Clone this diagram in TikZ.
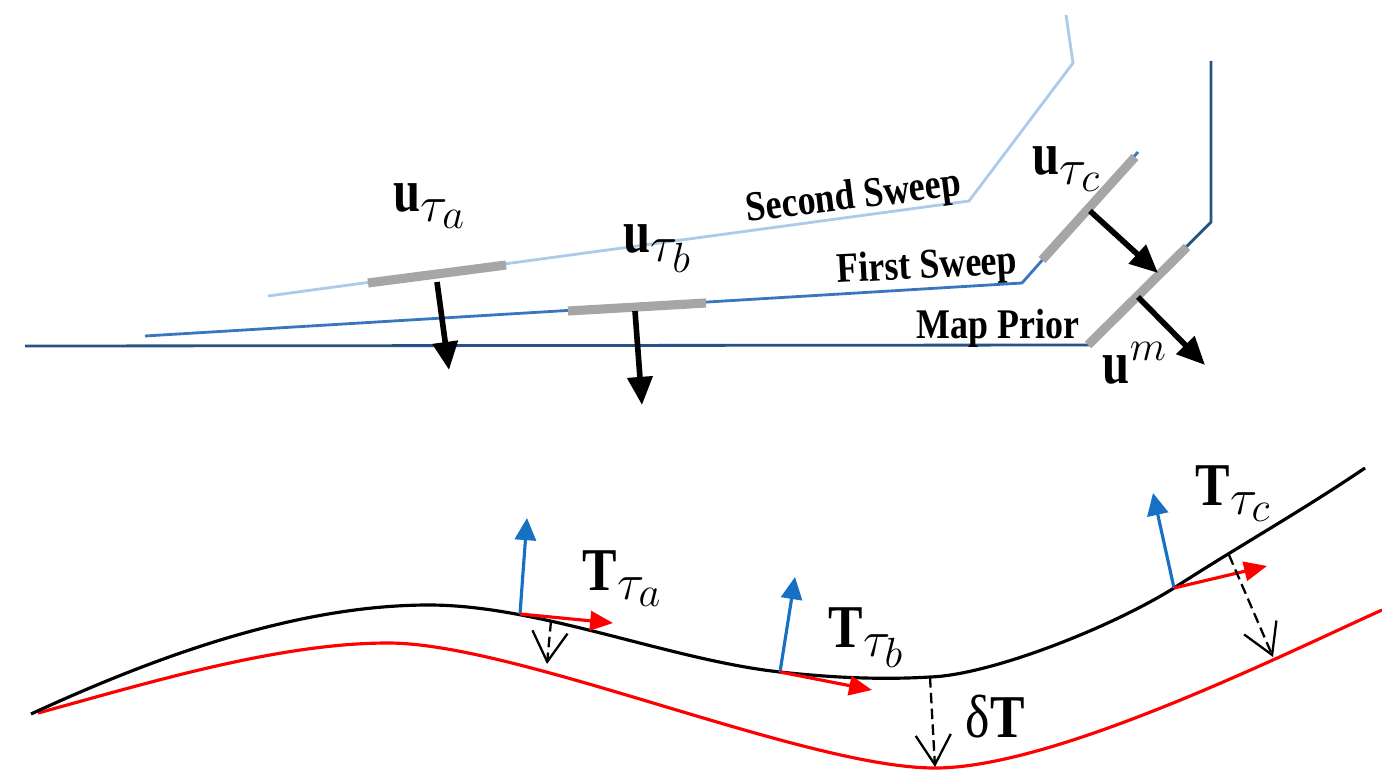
\documentclass[tikz,border=0pt]{standalone}
\usepackage{fontspec}
\setmainfont{Liberation Serif}
\usetikzlibrary{arrows.meta,positioning}
\definecolor{PriorBlue} {RGB}{40, 82,132}
\definecolor{FirstBlue} {RGB}{58,118,192}
\definecolor{SecondBlue}{RGB}{170,204,234}
\definecolor{BarGray}   {RGB}{166,166,166}
\definecolor{NormalBlue}{RGB}{22,112,196}
\DeclareMathSizes{17.28}{17.28}{14.4}{12}
\newcommand{\squeezed}[2][0.8]{\scalebox{#1}[1]{#2}}

\begin{document}
\begin{tikzpicture}[x=0.01cm, y=-0.01cm,
  sweep/.style={line width=0.8pt},
  patch/.style={BarGray, line width=2.6pt},
  shiftarrow/.style={line width=1.6pt, -{Triangle[length=8pt,width=7pt]}},
  normalarrow/.style={NormalBlue, line width=0.9pt, -{Triangle[length=6.3pt,width=6pt]}},
  tangentarrow/.style={red, line width=0.9pt, -{Triangle[length=6.5pt,width=5.5pt]}},
  offsetarrow/.style={line width=0.65pt, dash pattern=on 3pt off 1.5pt, -{Straight Barb[length=8.5pt,width=10pt]}},
  mathlabel/.style={anchor=base west, inner sep=0pt, font=\LARGE},
  sweeplabel/.style={anchor=base west, inner sep=0pt, font=\fontsize{12}{14}\selectfont\bfseries}]
\useasboundingbox (0,0) rectangle (1382,776);

% map prior and the two sweeps
\draw[sweep, PriorBlue]  (25,346) -- (1088,345) -- (1211,222) -- (1211,61);
\draw[sweep, FirstBlue]  (145,336) -- (1022,283) -- (1138,152);
\draw[sweep, SecondBlue] (268,296) -- (969,201) -- (1073,63) -- (1066,15);

\draw[patch] (368,283) -- (506,265);
\draw[patch] (568,311) -- (706,303);
\draw[patch] (1042,260) -- (1135,157);
\draw[patch] (1088,345) -- (1187,247);

\coordinate (ua) at (437,282);   \coordinate (ua end) at (449,370);
\coordinate (ub) at (635,311);   \coordinate (ub end) at (642,405);
\coordinate (uc) at (1090,211);  \coordinate (uc end) at (1158,273);
\coordinate (um) at (1138,297);  \coordinate (um end) at (1205,365);
\draw[shiftarrow] (ua) -- (ua end);
\draw[shiftarrow] (ub) -- (ub end);
\draw[shiftarrow] (uc) -- (uc end);
\draw[shiftarrow] (um) -- (um end);

\node[mathlabel] (lua) at (393,212)  {\squeezed{$\mathbf{u}$}$_{\tau_a}$};
\node[mathlabel] (lub) at (623,252)  {\squeezed{$\mathbf{u}$}$_{\tau_b}$};
\node[mathlabel] (luc) at (1032,175) {\squeezed{$\mathbf{u}$}$_{\tau_c}$};
\node[mathlabel] (lum) at (1102,383) {\squeezed{$\mathbf{u}$}$^{\scriptscriptstyle m}$};

\node[sweeplabel, rotate=7] (second) at (747,222) {\squeezed[0.85]{Second Sweep}};
\node[sweeplabel, rotate=3] (first)  at (837,283) {\squeezed[0.85]{First Sweep}};
\node[sweeplabel]           (prior)  at (916,338) {\squeezed[0.85]{Map Prior}};

% trajectory and its offset
\coordinate (Ta) at (520,614);
\coordinate (Tb) at (780,672);
\coordinate (Tc) at (1174,588);
\coordinate (da) at (551,621);   \coordinate (da end) at (547,664);
\coordinate (dT) at (930,677);   \coordinate (dT end) at (935,767);
\coordinate (dc) at (1229,555);  \coordinate (dc end) at (1273,657);

\draw[red, line width=0.9pt] (38,713) .. controls (148,683) and (278,643) .. (388,643)
  .. controls (518,643) and (805,768) .. (935,768)
  .. controls (1055,768) and (1282,655) .. (1382,610);
\draw[line width=0.9pt] (31,714) .. controls (161,654) and (300,605) .. (429,605)
  .. controls (539,605) and (670,660) .. (Tb)
  .. controls (830,677.5) and (880,680) .. (dT)
  .. controls (990,675) and (1110,628) .. (Tc)
  .. controls (1234,549) and (1300,512) .. (1365,468);

\coordinate (na) at (527,518);   \coordinate (ta) at (613,623);
\coordinate (nb) at (795,577);   \coordinate (tb) at (872,690);
\coordinate (nc) at (1153,493);  \coordinate (tc) at (1267,566);
\draw[normalarrow] (Ta) -- (na);
\draw[normalarrow] (Tb) -- (nb);
\draw[normalarrow] (Tc) -- (nc);
\draw[tangentarrow] (Ta) -- (ta);
\draw[tangentarrow] (Tb) -- (tb);
\draw[tangentarrow] (Tc) -- (tc);
\draw[offsetarrow] (da) -- (da end);
\draw[offsetarrow] (dT) -- (dT end);
\draw[offsetarrow] (dc) -- (dc end);

\node[mathlabel] (lTa) at (582,590)  {\squeezed[0.85]{$\mathbf{T}$}$_{\tau_a}$};
\node[mathlabel] (lTb) at (828,647)  {\squeezed[0.85]{$\mathbf{T}$}$_{\tau_b}$};
\node[mathlabel] (lTc) at (1195,505) {\squeezed[0.85]{$\mathbf{T}$}$_{\tau_c}$};
\node[mathlabel] (ldT) at (965,737)  {\squeezed[0.85]{δ$\mathbf{T}$}};
\end{tikzpicture}
\end{document}
